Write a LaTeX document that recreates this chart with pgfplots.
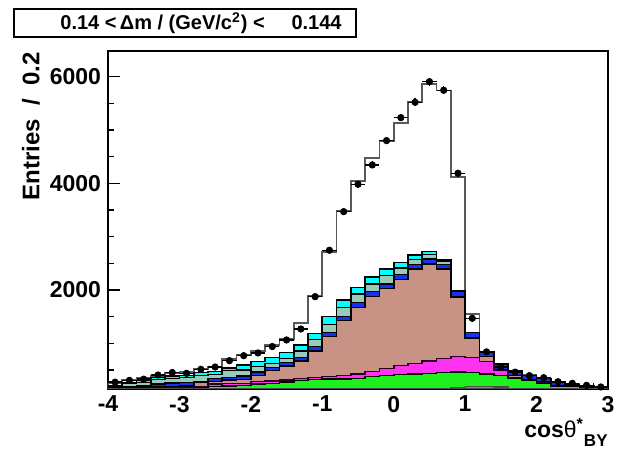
\documentclass[border=0pt]{standalone}
\usepackage{fontspec}
\setmainfont{Liberation Sans}
\usepackage{pgfplots}
\usepackage{pgfplotstable}
\pgfplotsset{compat=1.18}
\definecolor{rcyan}{RGB}{0,255,255}
\definecolor{rsea}{RGB}{152,204,184}
\definecolor{rblue}{RGB}{20,50,245}
\definecolor{rbrown}{RGB}{200,146,132}
\definecolor{rmag}{RGB}{255,50,240}
\definecolor{rgreen}{RGB}{30,240,30}
\definecolor{rgray}{RGB}{120,140,140}

% cumulative stack tops per bin (left edge x)
\pgfplotstableread{
x T C S B R M Gr g
-4.0 263 213 190 165 150 145 140 100
-3.8 313 263 244 190 160 150 140 100
-3.6 344 300 263 205 170 155 145 100
-3.4 390 356 325 240 180 160 150 100
-3.2 438 388 344 255 190 165 150 100
-3.0 469 400 356 265 200 170 155 100
-2.8 513 450 400 281 263 180 160 100
-2.6 563 475 419 338 288 238 188 100
-2.4 700 540 488 360 313 245 200 100
-2.2 788 594 500 388 325 250 213 100
-2.0 856 656 563 463 400 281 238 100
-1.8 963 731 625 544 488 294 250 100
-1.6 1081 825 719 638 575 313 275 100
-1.4 1375 969 856 738 669 344 300 100
-1.2 1888 1188 1075 938 856 360 320 100
-1.0 2719 1500 1356 1206 1125 375 330 100
-0.8 3488 1813 1675 1500 1425 400 330 100
-0.6 4050 2050 1925 1763 1675 425 344 100
-0.4 4481 2238 2113 1969 1875 469 375 100
-0.2 4800 2388 2269 2113 2031 531 400 100
0.0 5125 2519 2413 2294 2200 581 413 100
0.2 5519 2656 2575 2475 2388 625 425 100
0.4 5863 2719 2663 2581 2488 669 438 155
0.6 5738 2563 2538 2481 2388 719 450 160
0.8 4125 1981 1981 1981 1863 750 463 170
1.0 1550 1200 1200 1200 1100 738 450 188
1.2 844 844 844 844 750 656 425 188
1.4 613 613 613 613 500 490 400 180
1.6 481 481 481 481 400 356 344 160
1.8 400 400 400 400 325 320 313 100
2.0 338 338 338 338 275 255 250 100
2.2 275 275 275 275 213 205 200 100
2.4 231 231 231 231 200 190 188 100
2.6 200 200 200 200 185 175 170 100
2.8 175 175 175 175 165 160 155 100
3.0 175 175 175 175 165 160 155 100
}\stack

\pgfplotstableread{
x y ex ey
-3.9 272 0.1 16
-3.7 306 0.1 17
-3.5 328 0.1 18
-3.3 406 0.1 20
-3.1 453 0.1 21
-2.9 438 0.1 21
-2.7 513 0.1 23
-2.5 556 0.1 24
-2.3 675 0.1 26
-2.1 769 0.1 28
-1.9 820 0.1 29
-1.7 940 0.1 31
-1.5 1063 0.1 33
-1.3 1269 0.1 36
-1.1 1875 0.1 43
-0.9 2745 0.1 52
-0.7 3469 0.1 59
-0.5 3982 0.1 63
-0.3 4344 0.1 66
-0.1 4800 0.1 69
0.1 5231 0.1 72
0.3 5519 0.1 74
0.5 5906 0.1 77
0.7 5744 0.1 76
0.9 4188 0.1 65
1.1 1469 0.1 38
1.3 840 0.1 29
1.5 560 0.1 24
1.7 460 0.1 21
1.9 394 0.1 20
2.1 356 0.1 19
2.3 281 0.1 17
2.5 250 0.1 16
2.7 213 0.1 15
2.9 182 0.1 13
}\data

\begin{document}
\begin{tikzpicture}
\useasboundingbox (-54pt,-30.5pt) rectangle (254.5pt,194.5pt);
\begin{axis}[
  scale only axis, width=250pt, height=169pt,
  at={(0,0)}, anchor=south west,
  xmin=-4, xmax=3, ymin=144, ymax=6480,
  axis line style={line width=0.6pt},
  tick pos=left, tick align=inside,
  xtick={-4,-3,-2,-1,0,1,2,3},
  xticklabels={-4,-3,-2,-1,0,1,2,3},
  minor xtick={-3.8,-3.6,-3.4,-3.2,-2.8,-2.6,-2.4,-2.2,-1.8,-1.6,-1.4,-1.2,-0.8,-0.6,-0.4,-0.2,0.2,0.4,0.6,0.8,1.2,1.4,1.6,1.8,2.2,2.4,2.6,2.8},
  ytick={2000,4000,6000},
  yticklabels={2000,4000,6000},
  minor ytick={500,1000,1500,2500,3000,3500,4500,5000,5500},
  major tick length=6pt, minor tick length=3pt,
  every tick/.style={black, line width=0.6pt},
  ticklabel style={font=\fontsize{11.5}{12}\selectfont\bfseries},
  xticklabel style={yshift=0pt},
  every axis plot/.append style={const plot},
]
\addplot[fill=white, draw=black!65, line width=0.9pt] table[x=x,y=T]{\stack} \closedcycle;
\addplot[fill=rcyan, draw=black, line width=0.8pt] table[x=x,y=C]{\stack} \closedcycle;
\addplot[fill=rsea, draw=black, line width=0.8pt] table[x=x,y=S]{\stack} \closedcycle;
\addplot[fill=rblue, draw=black, line width=0.8pt] table[x=x,y=B]{\stack} \closedcycle;
\addplot[fill=rbrown, draw=black, line width=0.8pt] table[x=x,y=R]{\stack} \closedcycle;
\addplot[fill=rmag, draw=black!70!violet, line width=0.8pt] table[x=x,y=M]{\stack} \closedcycle;
\addplot[fill=rgreen, draw=black, line width=0.8pt] table[x=x,y=Gr]{\stack} \closedcycle;
\addplot[fill=rgray, draw=black!70, line width=0.6pt] table[x=x,y=g]{\stack} \closedcycle;
\addplot[sharp plot, only marks, mark=*, mark size=1.6pt, black,
  error bars/.cd, x dir=both, x explicit, y dir=both, y explicit,
  error mark=none, error bar style={line width=0.7pt, black}]
  table[x=x, y=y, x error=ex, y error=ey]{\data};
\end{axis}
% title box
\draw[line width=0.6pt, fill=white] (-47pt,176pt) rectangle (124pt,190pt);
\node[anchor=west, inner sep=0pt, font=\fontsize{10}{11}\selectfont\bfseries] at (-24pt,183pt) {0.14 <$\,$Δm / (GeV/c\textsuperscript{2}) <};
\node[anchor=east, inner sep=0pt, font=\fontsize{10}{11}\selectfont\bfseries] at (117pt,183pt) {0.144};
% y label
\node[rotate=90, inner sep=0pt, font=\fontsize{12}{13}\selectfont\bfseries] at (-38.5pt,131.25pt) {Entries\ \ /\ \ 0.2};
% x label
\node[anchor=base east, inner sep=0pt, font=\fontsize{11.5}{12}\selectfont\bfseries] at (250pt,-24.5pt) {cos{\mdseries θ}\textsuperscript{*}\raisebox{-0.35em}{\fontsize{8.5}{9}\selectfont BY}};
\end{tikzpicture}
\end{document}
